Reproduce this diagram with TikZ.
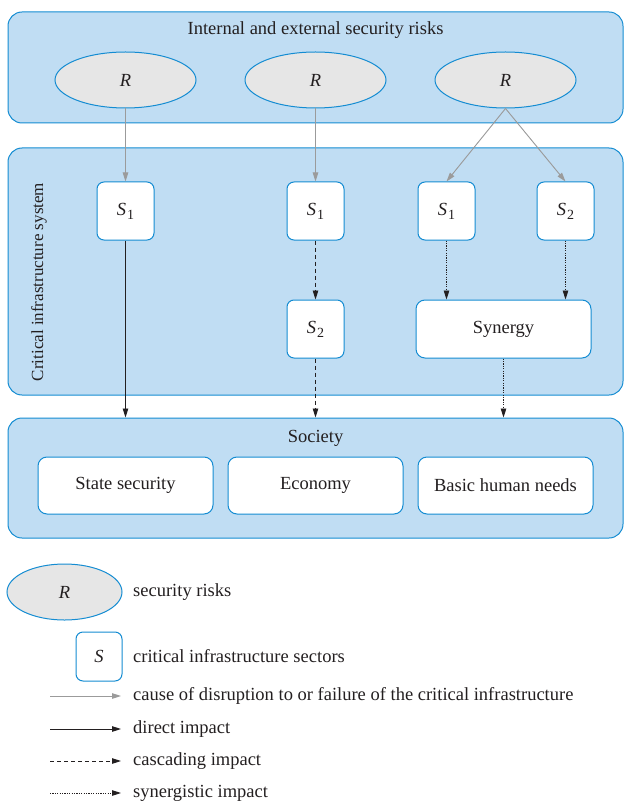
\documentclass[tikz,border=0pt]{standalone}
\usepackage{fontspec}
\setmainfont{Liberation Serif}
\usetikzlibrary{shapes.geometric,arrows.meta}
\definecolor{panelfill}{RGB}{192,221,243}
\definecolor{edgeblue}{RGB}{20,140,210}
\definecolor{riskfill}{RGB}{230,230,230}
\definecolor{ink}{RGB}{35,31,32}
\definecolor{causegray}{RGB}{155,155,155}
\newcommand\Ssec[1]{\textit{S}\kern0.05em\raisebox{-0.45ex}{\fontsize{14}{16}\selectfont #1}}
\begin{document}
\begin{tikzpicture}[x=1pt,y=-1pt,
  font=\fontsize{18.5}{21}\selectfont, text=ink,
  panel/.style={draw=edgeblue, line width=1pt, fill=panelfill, rounded corners=14pt, rectangle},
  risk/.style={ellipse, draw=edgeblue, line width=1pt, fill=riskfill, minimum width=141pt, minimum height=56pt, inner sep=0pt},
  sector/.style={rectangle, draw=edgeblue, line width=1pt, fill=white, rounded corners=7pt, minimum width=57pt, minimum height=58pt, inner sep=0pt},
  wbox/.style={rectangle, draw=edgeblue, line width=1pt, fill=white, rounded corners=9pt, minimum width=175pt, minimum height=57pt, inner sep=0pt},
  tip/.style={-{Triangle[length=9pt,width=5.5pt]}},
  cause/.style={tip, draw=causegray, fill=causegray, line width=0.9pt},
  direct/.style={tip, draw=ink, line width=0.9pt},
  cascade/.style={tip, draw=ink, line width=0.9pt, dash pattern=on 4pt off 3pt},
  synerg/.style={tip, draw=ink, line width=0.9pt, dash pattern=on 1.2pt off 1.2pt},
  legtext/.style={anchor=west, inner sep=0pt}
]
\useasboundingbox (0,0) rectangle (627,802);

% panels
\node[panel, minimum width=615pt, minimum height=111pt] (top) at (315.5,67.5) {};
\node[anchor=center] (toptitle) at (315.5,30) {Internal and external security risks};
\node[panel, minimum width=615pt, minimum height=247pt] (cis) at (315.5,271.5) {};
\node[rotate=90, font=\fontsize{17}{20}\selectfont] (cistitle) at (39,282) {Critical infrastructure system};
\node[panel, minimum width=615pt, minimum height=120pt] (soc) at (315.5,478) {};
\node (soctitle) at (315.5,438) {Society};

% risks
\node[risk] (r1) at (125.5,80) {\textit{R}};
\node[risk] (r2) at (315.5,80) {\textit{R}};
\node[risk] (r3) at (505.5,80) {\textit{R}};

% sectors
\node[sector] (s1a) at (125.5,211) {\Ssec{1}};
\node[sector] (s1b) at (315.5,211) {\Ssec{1}};
\node[sector] (s1c) at (446.5,211) {\Ssec{1}};
\node[sector] (s2c) at (565.5,211) {\Ssec{2}};
\node[sector] (s2b) at (315.5,329) {\Ssec{2}};
\node[sector, minimum width=175pt, rounded corners=9pt] (syn) at (503.5,329) {Synergy};

% society
\node[wbox] (state) at (125.5,485.5) {State security};
\node[wbox] (econ) at (315.5,485.5) {Economy};
\node[wbox] (needs) at (505.5,485.5) {Basic human needs};

% connectors
\draw[cause] (r1.south) -- (s1a.north);
\draw[cause] (r2.south) -- (s1b.north);
\draw[cause] (r3.south) -- (s1c.north);
\draw[cause] (r3.south) -- (s2c.north);
\draw[direct] (s1a.south) -- (s1a.south |- soc.north);
\draw[cascade] (s1b.south) -- (s2b.north);
\draw[cascade] (s2b.south) -- (s2b.south |- soc.north);
\draw[synerg] (s1c.south) -- (s1c.south |- syn.north);
\draw[synerg] (s2c.south) -- (s2c.south |- syn.north);
\draw[synerg] (syn.south) -- (syn.south |- soc.north);

% legend
\node[risk, minimum width=115pt] (lr) at (64.5,592) {\textit{R}};
\node[legtext] (lrt) at (133,592) {security risks};
\node[sector, minimum width=46pt, minimum height=49pt] (ls) at (99,656.5) {\textit{S}};
\node[legtext] (lst) at (133,656) {critical infrastructure sectors};
\coordinate (l1a) at (50,696); \coordinate (l1b) at (121,696);
\draw[cause] (l1a) -- (l1b);
\node[legtext] (l1t) at (133,696) {cause of disruption to or failure of the critical infrastructure};
\coordinate (l2a) at (50,729); \coordinate (l2b) at (121,729);
\draw[direct] (l2a) -- (l2b);
\node[legtext] (l2t) at (133,729) {direct impact};
\coordinate (l3a) at (50,761); \coordinate (l3b) at (121,761);
\draw[cascade] (l3a) -- (l3b);
\node[legtext] (l3t) at (133,761) {cascading impact};
\coordinate (l4a) at (50,793); \coordinate (l4b) at (121,793);
\draw[synerg] (l4a) -- (l4b);
\node[legtext] (l4t) at (133,793) {synergistic impact};
\end{tikzpicture}
\end{document}
